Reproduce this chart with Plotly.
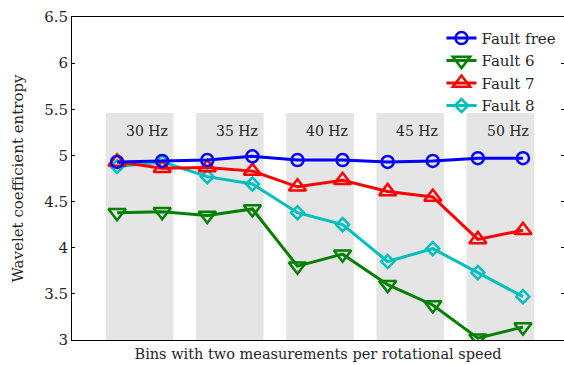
import plotly.graph_objects as go

# Measurement index along the x axis (two measurements per rotational speed bin)
positions = [1, 2, 3, 4, 5, 6, 7, 8, 9, 10]

fault_free = [4.93, 4.94, 4.95, 4.99, 4.95, 4.95, 4.93, 4.94, 4.97, 4.97]
fault_6 = [4.38, 4.39, 4.35, 4.42, 3.80, 3.93, 3.60, 3.38, 3.02, 3.14]
fault_7 = [4.93, 4.86, 4.87, 4.83, 4.66, 4.73, 4.61, 4.55, 4.09, 4.19]
fault_8 = [4.88, 4.93, 4.77, 4.69, 4.38, 4.25, 3.85, 3.99, 3.73, 3.47]

speed_labels = ["30 Hz", "35 Hz", "40 Hz", "45 Hz", "50 Hz"]
bin_top = 5.46
y_ticks = [3, 3.5, 4, 4.5, 5, 5.5, 6, 6.5]

FONT = "DejaVu Serif, serif"
FS = 15
TXT = "#262626"

series = [
    ("Fault 8", fault_8, "#00BFBF", "diamond-open", 10),
    ("Fault 7", fault_7, "#FF0000", "triangle-up-open", 15),
    ("Fault 6", fault_6, "#008000", "triangle-down-open", 15),
    ("Fault free", fault_free, "#0000FF", "circle-open", 12),
]

fig = go.Figure()

for name, vals, color, symbol, size in series:
    fig.add_trace(go.Scatter(
        x=positions, y=vals, name=name, mode="lines+markers",
        line=dict(color=color, width=3),
        marker=dict(symbol=symbol, size=size, color=color,
                    line=dict(color=color, width=2.5)),
    ))

# Grey background bins, one per rotational speed, with their labels
shapes = []
annotations = []
for k, lab in enumerate(speed_labels):
    lo = positions[2 * k] - 0.25
    hi = positions[2 * k + 1] + 0.25
    shapes.append(dict(type="rect", xref="x", yref="y", x0=lo, x1=hi,
                       y0=3, y1=bin_top, fillcolor="#E5E5E5",
                       line=dict(width=0), layer="below"))
    annotations.append(dict(x=(lo + hi) / 2 + 0.16, y=5.27, xref="x", yref="y",
                            text=lab, showarrow=False,
                            font=dict(family=FONT, size=14, color=TXT)))

fig.update_layout(
    width=564, height=365,
    margin=dict(l=72, r=0, t=17, b=25),
    plot_bgcolor="white", paper_bgcolor="white",
    font=dict(family=FONT, size=FS, color=TXT),
    shapes=shapes, annotations=annotations,
    showlegend=True,
    legend=dict(x=0.751, y=0.985, xanchor="left", yanchor="top",
                traceorder="reversed", bgcolor="rgba(255,255,255,0)",
                font=dict(family=FONT, size=15, color=TXT),
                itemwidth=30, tracegroupgap=0),
    xaxis=dict(range=[0, 10.91], showgrid=False, zeroline=False,
               showticklabels=False, ticks="",
               showline=True, linecolor="black", linewidth=1, mirror=True,
               title=dict(text="Bins with two measurements per rotational speed",
                          font=dict(family=FONT, size=14.5), standoff=8)),
    yaxis=dict(range=[3, 6.5], tickvals=y_ticks,
               ticktext=[f"{v:g}" for v in y_ticks],
               showgrid=False, zeroline=False,
               ticks="inside", ticklen=3, tickcolor="black",
               showline=True, linecolor="black", linewidth=1, mirror="ticks",
               tickfont=dict(family=FONT, size=FS),
               title=dict(text="Wavelet coefficient entropy",
                          font=dict(family=FONT, size=FS), standoff=16)),
)

fig.write_html("out.html")
